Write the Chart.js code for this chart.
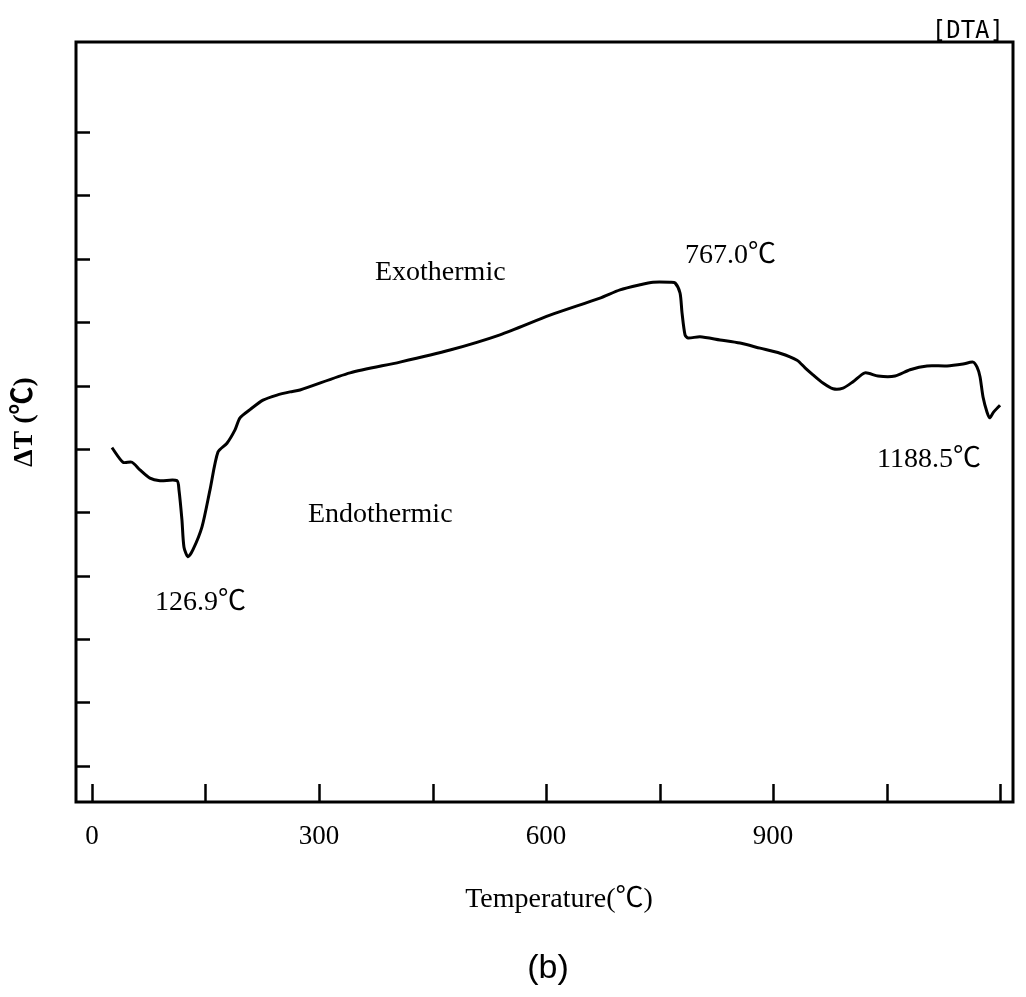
<!DOCTYPE html>
<html>
<head>
<meta charset="utf-8">
<script src="https://cdn.jsdelivr.net/npm/chart.js@4.4.1/dist/chart.umd.min.js"></script>
<style>
  html, body { margin: 0; padding: 0; background: #ffffff; }
  #wrap { width: 1026px; height: 997px; position: relative; }
</style>
</head>
<body>
<div id="wrap"><canvas id="c" width="1026" height="997"></canvas></div>
<script>
// ---- Data ----
const temperature = [26.4, 41.0, 52.9, 63.4, 76.6, 89.9, 112.3, 115.0, 118.9, 121.6, 126.9, 133.5, 145.4, 155.9, 166.5, 178.4, 189.0, 195.6, 208.8, 226.0, 244.5, 261.7, 274.9, 341.0, 407.0, 473.1, 539.2, 605.3, 671.3, 697.8, 724.2, 741.4, 763.8, 770.5, 777.1, 779.7, 783.7, 787.6, 803.5, 829.9, 856.4, 882.8, 909.2, 931.7, 942.3, 952.8, 966.0, 979.3, 992.5, 1005.7, 1021.5, 1038.7, 1061.2, 1081.0, 1103.5, 1129.9, 1151.1, 1164.3, 1169.6, 1173.5, 1177.5, 1182.8, 1186.7, 1190.7, 1200.0];
const deltaT = [5.02, 4.79, 4.79, 4.67, 4.54, 4.50, 4.50, 4.35, 3.88, 3.45, 3.30, 3.41, 3.77, 4.35, 4.95, 5.09, 5.30, 5.49, 5.62, 5.77, 5.85, 5.90, 5.93, 6.20, 6.37, 6.56, 6.80, 7.11, 7.38, 7.51, 7.59, 7.63, 7.63, 7.62, 7.46, 7.15, 6.80, 6.75, 6.77, 6.72, 6.67, 6.59, 6.51, 6.40, 6.28, 6.17, 6.04, 5.95, 5.96, 6.06, 6.20, 6.15, 6.15, 6.25, 6.31, 6.31, 6.34, 6.37, 6.29, 6.14, 5.82, 5.58, 5.49, 5.57, 5.69];
const xTickValues = [0, 150, 300, 450, 600, 750, 900, 1050, 1200];
const xLabelValues = [0, 300, 600, 900];
const yTickValues = [0, 1, 2, 3, 4, 5, 6, 7, 8, 9, 10];
const annotationTexts = ['Exothermic', 'Endothermic', '126.9\u2103', '767.0\u2103', '1188.5\u2103'];
const annotationX = [374.0, 285.4, 83.3, 783.7, 1037.4];
const annotationY = [7.67, 3.85, 2.46, 7.93, 4.72];
const xTitle = 'Temperature(\u2103)';
const yTitle = '\u0394T (\u2103)';
const cornerTag = '[DTA]';
const panelTag = '(b)';

const points = temperature.map((t, i) => ({ x: t, y: deltaT[i] }));
const SERIF = "'Liberation Serif', 'Noto Sans CJK SC', serif";

const framePlugin = {
  id: 'frame',
  afterDraw(chart) {
    const ctx = chart.ctx;
    const a = chart.chartArea;
    const xs = chart.scales.x, ys = chart.scales.y;
    ctx.save();
    ctx.strokeStyle = '#000';
    ctx.lineWidth = 3;
    ctx.strokeRect(a.left, a.top, a.right - a.left, a.bottom - a.top);
    // inward ticks
    ctx.lineWidth = 2.5;
    ctx.beginPath();
    xTickValues.forEach(v => {
      const px = Math.round(xs.getPixelForValue(v)) + 0.5;
      ctx.moveTo(px, a.bottom);
      ctx.lineTo(px, a.bottom - 18);
    });
    yTickValues.forEach(v => {
      const py = Math.round(ys.getPixelForValue(v)) + 0.5;
      ctx.moveTo(a.left, py);
      ctx.lineTo(a.left + 14, py);
    });
    ctx.stroke();
    // annotations
    ctx.fillStyle = '#000';
    ctx.textAlign = 'left';
    ctx.textBaseline = 'alphabetic';
    ctx.font = '28px ' + SERIF;
    annotationTexts.forEach((t, i) => {
      ctx.fillText(t, xs.getPixelForValue(annotationX[i]), ys.getPixelForValue(annotationY[i]));
    });
    // x title
    ctx.textAlign = 'center';
    ctx.font = '28px ' + SERIF;
    ctx.fillText(xTitle, 559, 907);
    // corner tag
    ctx.textAlign = 'right';
    ctx.font = "24px 'DejaVu Sans Mono', monospace";
    ctx.fillText(cornerTag, 1004, 38);
    // panel tag
    ctx.textAlign = 'center';
    ctx.font = "34px 'Liberation Sans', 'DejaVu Sans', sans-serif";
    ctx.fillText(panelTag, 548, 978);
    ctx.restore();
  }
};

new Chart(document.getElementById('c'), {
  type: 'line',
  data: {
    datasets: [{
      data: points,
      borderColor: '#000',
      borderWidth: 3,
      pointRadius: 0,
      tension: 0.25,
      fill: false
    }]
  },
  options: {
    responsive: false,
    animation: false,
    devicePixelRatio: 1,
    layout: { padding: { top: 42, right: 13, left: 0, bottom: 0 } },
    plugins: { legend: { display: false }, tooltip: { enabled: false } },
    scales: {
      x: {
        type: 'linear',
        min: -21.1,
        max: 1217.1,
        afterBuildTicks(scale) { scale.ticks = xTickValues.map(v => ({ value: v })); },
        afterFit(scale) { scale.height = 195; },
        grid: { display: false, drawTicks: false },
        border: { display: false },
        ticks: {
          padding: 19,
          color: '#000',
          font: { family: SERIF, size: 27 },
          autoSkip: false,
          maxRotation: 0,
          callback: (v) => xLabelValues.includes(v) ? String(v) : ''
        }
      },
      y: {
        type: 'linear',
        min: -0.57,
        max: 11.42,
        afterBuildTicks(scale) { scale.ticks = yTickValues.map(v => ({ value: v })); },
        afterFit(scale) { scale.width = 76; },
        grid: { display: false, drawTicks: false },
        border: { display: false },
        ticks: { display: false },
        title: {
          display: true,
          text: yTitle,
          color: '#000',
          font: { family: SERIF, size: 28, weight: 'bold' },
          padding: { top: 8, bottom: 0 }
        }
      }
    }
  },
  plugins: [framePlugin]
});
</script>
</body>
</html>
